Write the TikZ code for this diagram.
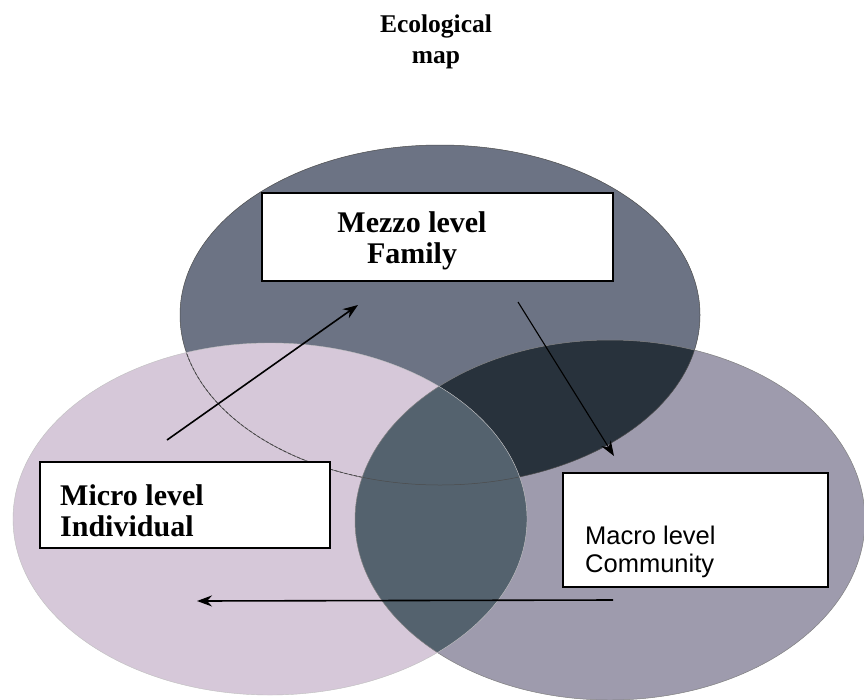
\documentclass[tikz,border=0pt]{standalone}
\usepackage{fontspec}
\setmainfont{Liberation Serif}
\setsansfont{Liberation Sans}
\usetikzlibrary{arrows.meta}
\definecolor{topc}{RGB}{108,115,132}
\definecolor{rightc}{RGB}{158,155,173}
\definecolor{leftc}{RGB}{214,200,217}
\definecolor{darkc}{RGB}{40,50,60}
\definecolor{midc}{RGB}{84,98,110}
\tikzset{
  levelbox/.style={draw=black, line width=1.8pt, fill=white, inner sep=0pt},
  seriflabel/.style={font=\fontsize{30}{31}\selectfont\bfseries, align=left, inner sep=0pt},
  sanslabel/.style={font=\fontsize{25.5}{28}\selectfont\sffamily, align=left, inner sep=0pt},
  flowarrow/.style={draw=black, line width=1.6pt, -{Stealth[length=15pt,width=11pt]}},
  edgeline/.style={draw=black!70, line width=0.5pt}
}
\begin{document}
\begin{tikzpicture}[x=1pt,y=-1pt]
\useasboundingbox (0,0) rectangle (864,699);
\fill[white] (0,0) rectangle (864,699);
% ellipses
\def\topE{(440,315) ellipse [x radius=260, y radius=170]}
\def\leftE{(270,519) ellipse [x radius=257, y radius=176]}
\def\rightE{(610,520) ellipse [x radius=255, y radius=180]}
\fill[topc] \topE;
\fill[rightc] \rightE;
\begin{scope}
  \clip \topE;
  \fill[darkc] \rightE;
\end{scope}
\fill[leftc] \leftE;
\begin{scope}
  \clip \leftE;
  \draw[black!80, line width=0.7pt, dash pattern=on 3pt off 2pt] \topE;
  \fill[midc] \rightE;
\end{scope}
\draw[edgeline] \topE;
\draw[edgeline, black!50] \rightE;
\draw[black!25, line width=0.4pt] \leftE;
% title
\node[font=\fontsize{25.5}{31}\selectfont\bfseries, align=center, inner sep=0pt, anchor=north] (title) at (436,14.6) {Ecological\\map};
% boxes
\node[levelbox, minimum width=351pt, minimum height=88pt] (mezzobox) at (437.5,237) {};
\node[seriflabel, align=center, anchor=north] (mezzo) at (412,211.5) {Mezzo level\\Family};
\node[levelbox, minimum width=290pt, minimum height=86pt] (microbox) at (185,505) {};
\node[seriflabel, anchor=north west] (micro) at (60,484.5) {Micro level\\Individual};
\node[levelbox, minimum width=265pt, minimum height=114pt] (macrobox) at (695.5,530) {};
\node[sanslabel, anchor=north west] (macro) at (585,525.7) {Macro level\\Community};
% arrows
\coordinate (a1s) at (167,440);
\coordinate (a1e) at (358,305);
\coordinate (a2s) at (518,302);
\coordinate (a2e) at (614,456);
\coordinate (a3s) at (613,600);
\coordinate (a3e) at (197,601);
\draw[flowarrow] (a1s) -- (a1e);
\draw[flowarrow, line width=1.1pt] (a2s) -- (a2e);
\draw[flowarrow] (a3s) -- (a3e);
\end{tikzpicture}
\end{document}
